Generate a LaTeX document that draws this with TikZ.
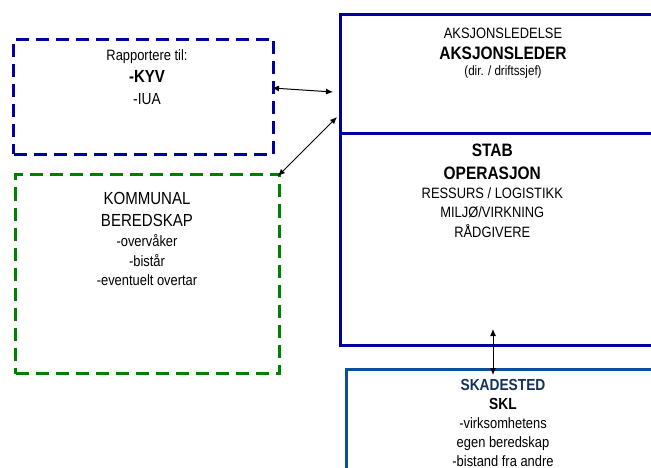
\documentclass[tikz,border=0pt]{standalone}
\usepackage{fontspec}
\setmainfont{Liberation Sans}[FakeStretch=0.86]
\usetikzlibrary{arrows.meta}
\definecolor{navyline}{RGB}{0,0,160}
\definecolor{greenline}{RGB}{0,128,0}
\definecolor{skadline}{RGB}{10,80,150}
\definecolor{skadtext}{RGB}{20,50,90}
\tikzset{
  dashbox/.style={draw, line width=3pt, dash pattern=on 13pt off 7pt, minimum width=#1, inner sep=0pt, anchor=north west},
  solidbox/.style={draw=navyline, line width=3pt, inner sep=0pt, anchor=north west},
  txt/.style={anchor=base, inner sep=0pt, font=\fontsize{15}{18}\selectfont},
  txtb/.style={anchor=base, inner sep=0pt, font=\fontsize{18}{21}\selectfont\bfseries},
  conn/.style={line width=1pt, {Latex[length=7pt,width=6pt]}-{Latex[length=7pt,width=6pt]}},
}
\begin{document}
\begin{tikzpicture}[x=1pt,y=-1pt]
\useasboundingbox (0,0) rectangle (651,468);
\fill[white] (0,0) rectangle (651,468);
\clip (0,0) rectangle (651,468);
% boxes
\node[dashbox=260pt, draw=navyline, minimum height=115pt] (kyv) at (12,38) {};
\node[dashbox=264pt, draw=greenline, minimum height=199pt] (komm) at (14,173) {};
\node[solidbox, minimum width=330pt, minimum height=119pt] (aks) at (339,13) {};
\node[solidbox, minimum width=330pt, minimum height=212pt] (stab) at (339,132) {};
\node[solidbox, draw=skadline, minimum width=330pt, minimum height=130pt] (skad) at (345,368) {};
% texts: KYV box
\node[txt] (t1) at (147,61) {Rapportere til:};
\node[txtb, font=\fontsize{17.5}{20}\selectfont\bfseries] (t2) at (147,83) {-KYV};
\node[txt, font=\fontsize{16}{19}\selectfont] (t3) at (147,105) {-IUA};
% aksjonsledelse
\node[txt] (a1) at (503,38.3) {AKSJONSLEDELSE};
\node[txtb] (a2) at (503,60) {AKSJONSLEDER};
\node[txt, font=\fontsize{13.5}{16}\selectfont] (a3) at (503,76) {(dir. / driftssjef)};
% stab
\node[txtb] (s1) at (492.3,156.7) {STAB};
\node[txtb] (s2) at (492.3,180) {OPERASJON};
\node[txt] (s3) at (492.3,199) {RESSURS / LOGISTIKK};
\node[txt] (s4) at (492.3,218) {MILJØ/VIRKNING};
\node[txt] (s5) at (492.3,237) {RÅDGIVERE};
% kommunal
\node[txt, font=\fontsize{17.5}{20}\selectfont] (k1) at (147,204.3) {KOMMUNAL};
\node[txt, font=\fontsize{17.5}{20}\selectfont] (k2) at (147,226.7) {BEREDSKAP};
\node[txt] (k3) at (147,246) {-overvåker};
\node[txt] (k4) at (147,266) {-bistår};
\node[txt] (k5) at (147,285) {-eventuelt overtar};
% skadested
\node[txtb, font=\fontsize{16}{19}\selectfont\bfseries, text=skadtext] (d1) at (503,390.7) {SKADESTED};
\node[txtb, font=\fontsize{16}{19}\selectfont\bfseries] (d2) at (503,409.3) {SKL};
\node[txt] (d3) at (503,428) {-virksomhetens};
\node[txt] (d4) at (503,447) {egen beredskap};
\node[txt] (d5) at (503,466) {-bistand fra andre};
% connectors
\coordinate (c1a) at (272,88);
\coordinate (c1b) at (333,92);
\coordinate (c2a) at (278,176);
\coordinate (c2b) at (337,117);
\coordinate (c3a) at (493,329);
\coordinate (c3b) at (493,375);
\draw[conn] (c1a) -- (c1b);
\draw[conn] (c2a) -- (c2b);
\draw[conn] (c3a) -- (c3b);
\end{tikzpicture}
\end{document}
